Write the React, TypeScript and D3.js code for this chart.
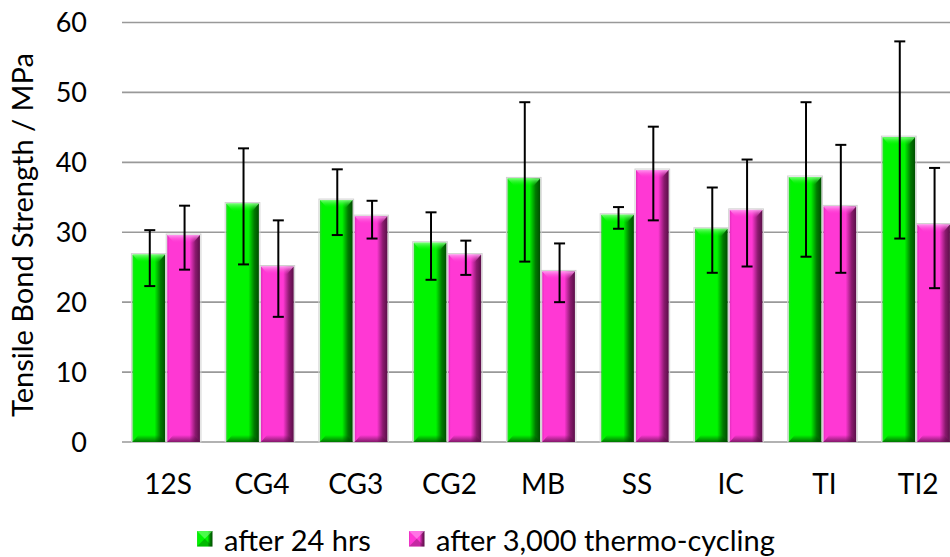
import React from "react";
import * as d3 from "d3";

const categories = ["12S", "CG4", "CG3", "CG2", "MB", "SS", "IC", "TI", "TI2"];
const seriesNames = ["after 24 hrs", "after 3,000 thermo-cycling"];
const values24 = [26.8, 34.1, 34.6, 28.5, 37.7, 32.5, 30.5, 37.9, 43.6];
const hi24 = [30.3, 42.0, 39.0, 32.85, 48.6, 33.6, 36.4, 48.6, 57.3];
const lo24 = [22.3, 25.4, 29.6, 23.2, 25.8, 30.5, 24.2, 26.5, 29.1];
const valuesTC = [29.6, 25.1, 32.3, 26.8, 24.4, 38.9, 33.2, 33.7, 31.1];
const hiTC = [33.8, 31.7, 34.5, 28.8, 28.4, 45.1, 40.4, 42.5, 39.2];
const loTC = [24.65, 17.9, 29.1, 23.9, 20.0, 31.7, 25.1, 24.2, 22.0];
const yTicks = [0, 10, 20, 30, 40, 50, 60];

const W = 950;
const H = 557;
const FONT = "Lato, 'Open Sans', sans-serif";

const palettes = [
  { id: "g", base: "#00f400", light: "#7dff7d", dark: "#007a00", darker: "#004d00", edge: "#2bd62b" },
  { id: "m", base: "#ff38d4", light: "#ff9cf0", dark: "#8a1a6e", darker: "#5a0f48", edge: "#e02dbb" },
];

export default function App() {
  const y = d3.scaleLinear().domain([0, 60]).range([442, 22.5]);
  const x0 = d3
    .scaleBand<string>()
    .domain(categories)
    .range([119.3, 119.3 + 9 * 93.75])
    .paddingInner(0.28)
    .paddingOuter(0.14);
  const x1 = d3
    .scaleBand<string>()
    .domain(["g", "m"])
    .range([0, x0.bandwidth()])
    .paddingInner(0.06);

  const series = [
    { key: "g", vals: values24, hi: hi24, lo: lo24, pal: palettes[0] },
    { key: "m", vals: valuesTC, hi: hiTC, lo: loTC, pal: palettes[1] },
  ];

  const bw = x1.bandwidth();
  const base = y(0);

  return (
    <svg width={W} height={H} style={{ position: "absolute", left: 0, top: 0 }} fontFamily={FONT}>
      <defs>
        {palettes.map((p) => (
          <React.Fragment key={p.id}>
            <linearGradient id={`h-${p.id}`} x1="0" x2="1" y1="0" y2="0">
              <stop offset="0" stopColor={p.edge} />
              <stop offset="0.07" stopColor={p.base} />
              <stop offset="0.68" stopColor={p.base} />
              <stop offset="0.86" stopColor={p.dark} />
              <stop offset="1" stopColor={p.darker} />
            </linearGradient>
            <linearGradient id={`t-${p.id}`} x1="0" x2="0" y1="0" y2="1">
              <stop offset="0" stopColor={p.light} stopOpacity="0.95" />
              <stop offset="1" stopColor={p.base} stopOpacity="0" />
            </linearGradient>
            <linearGradient id={`b-${p.id}`} x1="0" x2="0" y1="0" y2="1">
              <stop offset="0" stopColor={p.darker} stopOpacity="0" />
              <stop offset="1" stopColor={p.darker} stopOpacity="0.75" />
            </linearGradient>
          </React.Fragment>
        ))}
      </defs>

      {/* gridlines */}
      {yTicks.map((t) => (
        <line key={t} x1={122} x2={W} y1={y(t)} y2={y(t)} stroke="#999" strokeWidth={1.6} />
      ))}

      {/* y tick labels */}
      {yTicks.map((t) => (
        <text key={t} x={87} y={y(t)} dy="0.36em" textAnchor="end" fontSize={27} fill="#000">
          {t}
        </text>
      ))}

      {/* y title */}
      <text
        transform={`translate(23, 235) rotate(-90)`}
        textAnchor="middle"
        dy="0.36em"
        fontSize={29}
        fill="#000"
      >
        Tensile Bond Strength / MPa
      </text>

      {/* bars */}
      {categories.map((c, i) => (
        <g key={c} transform={`translate(${x0(c)},0)`}>
          {series.map((s) => {
            const bx = x1(s.key)!;
            const top = y(s.vals[i]);
            const h = base - top;
            const p = s.pal;
            return (
              <g key={s.key}>
                <rect x={bx - 1} y={top - 1} width={bw + 2} height={h + 1} fill="none" stroke="#d0d0d0" strokeWidth={1} />
                <rect x={bx} y={top} width={bw} height={h} fill={`url(#h-${p.id})`} />
                <polygon
                  points={`${bx},${top} ${bx + bw},${top} ${bx + bw - 7},${top + 8} ${bx + 7},${top + 8}`}
                  fill={`url(#t-${p.id})`}
                />
                <polygon
                  points={`${bx},${base} ${bx + bw},${base} ${bx + bw - 6},${base - 7} ${bx + 6},${base - 7}`}
                  fill={`url(#b-${p.id})`}
                />
              </g>
            );
          })}
        </g>
      ))}

      {/* error bars */}
      {categories.map((c, i) => (
        <g key={c} transform={`translate(${x0(c)},0)`}>
          {series.map((s) => {
            const cx = x1(s.key)! + bw / 2 + 1;
            const yh = y(s.hi[i]);
            const yl = y(s.lo[i]);
            return (
              <g key={s.key} stroke="#000" strokeWidth={2}>
                <line x1={cx} x2={cx} y1={yh} y2={yl} />
                <line x1={cx - 5.5} x2={cx + 5.5} y1={yh} y2={yh} />
                <line x1={cx - 5.5} x2={cx + 5.5} y1={yl} y2={yl} />
              </g>
            );
          })}
        </g>
      ))}

      {/* category labels */}
      {categories.map((c) => (
        <text key={c} x={x0(c)! + x0.bandwidth() / 2 + 2} y={494} textAnchor="middle" fontSize={28} fill="#000">
          {c}
        </text>
      ))}

      {/* legend */}
      {[197, 409].map((lx, k) => {
        const p = palettes[k];
        return (
          <g key={k}>
            <rect x={lx} y={531} width={15.5} height={15.5} fill={`url(#h-${p.id})`} />
            <polygon points={`${lx},531 ${lx + 15.5},531 ${lx + 7.75},538.75`} fill={p.light} opacity={0.6} />
            <polygon points={`${lx},546.5 ${lx + 15.5},546.5 ${lx + 7.75},538.75`} fill={p.darker} opacity={0.35} />
            <text x={lx + 27} y={551} fontSize={29} fill="#000">
              {seriesNames[k]}
            </text>
          </g>
        );
      })}
    </svg>
  );
}
